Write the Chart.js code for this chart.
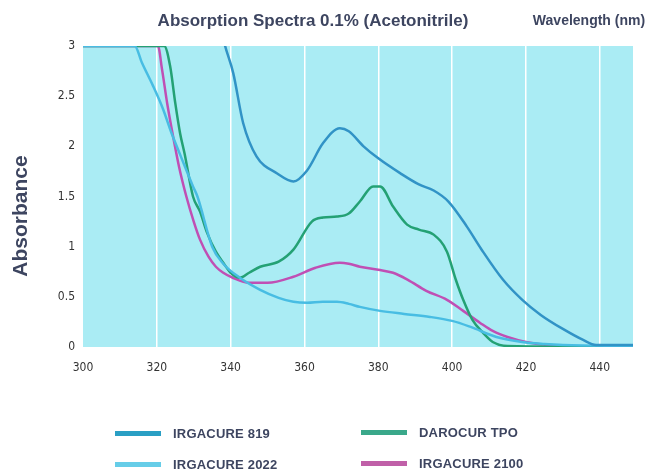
<!DOCTYPE html>
<html>
<head>
<meta charset="utf-8">
<script src="https://cdn.jsdelivr.net/npm/chart.js@4.4.1/dist/chart.umd.min.js"></script>
<style>
  html, body { margin: 0; padding: 0; background: #fff; }
  #wrap { position: relative; width: 651px; height: 473px; }
  #legend { position: absolute; left: 0; top: 0; width: 651px; height: 473px; pointer-events: none; }
  .item { position: absolute; height: 20px; }
  .swatch { position: absolute; left: 0; top: 7px; width: 46px; height: 5px; }
  .label { position: absolute; left: 58px; top: 0; white-space: nowrap;
           font: bold 13px "Liberation Sans", sans-serif; letter-spacing: 0.2px; color: #3d4560; line-height: 20px; }
</style>
</head>
<body>
<div id="wrap">
  <canvas id="spectraChart" width="651" height="473"></canvas>
  <div id="legend"></div>
</div>
<script>
// series labels
const seriesNames = ['IRGACURE 819', 'IRGACURE 2022', 'DAROCUR TPO', 'IRGACURE 2100'];

// wavelength (nm) / absorbance
const irg819X = [336.5, 338.5, 340.7, 343.4, 347, 352.6, 357, 360.7, 365, 369.6, 372, 376, 380, 386, 391, 395, 399, 404, 408, 413.8, 419, 424, 430, 435.5, 439, 449];
const irg819Y = [3.3, 3.0, 2.73, 2.23, 1.9, 1.73, 1.65, 1.76, 2.03, 2.18, 2.15, 2.0, 1.88, 1.73, 1.62, 1.56, 1.45, 1.2, 0.97, 0.67, 0.47, 0.32, 0.18, 0.07, 0.02, 0.02];

const irg2022X = [300, 314, 316, 319, 321.7, 324, 326.5, 329.8, 331, 335, 338, 342.5, 348, 353, 357, 360.7, 365, 368.8, 372, 375, 380.5, 387, 394, 400, 405, 412, 419, 425, 430, 449];
const irg2022Y = [3.0, 3.0, 2.83, 2.6, 2.37, 2.13, 1.9, 1.6, 1.5, 1.0, 0.83, 0.69, 0.57, 0.49, 0.45, 0.44, 0.45, 0.45, 0.43, 0.40, 0.36, 0.33, 0.30, 0.26, 0.20, 0.10, 0.05, 0.03, 0.02, 0.01];

const tpoX = [300, 322, 323.6, 325, 326.3, 327.5, 329.8, 331.7, 333.6, 336, 338, 340, 342.5, 345, 348, 353, 357, 362, 365, 368.8, 372, 375, 378.6, 380.5, 384, 387.8, 391, 395, 398.6, 401, 403, 405.5, 408.4, 411, 415, 449];
const tpoY = [3.0, 3.0, 2.8, 2.43, 2.13, 1.93, 1.5, 1.35, 1.14, 0.95, 0.84, 0.74, 0.69, 0.74, 0.80, 0.85, 0.97, 1.25, 1.29, 1.30, 1.33, 1.45, 1.6, 1.6, 1.4, 1.22, 1.17, 1.12, 0.95, 0.67, 0.47, 0.27, 0.14, 0.05, 0.01, 0.0];

const irg2100X = [300, 320.3, 321.4, 322.8, 324.4, 326, 328, 330, 331.7, 334, 336, 338, 340.6, 345, 350, 357, 363, 369.6, 372, 375, 380, 384, 388, 393, 398.6, 403, 407.6, 411, 415, 420, 425.7, 439, 449];
const irg2100Y = [3.0, 3.0, 2.77, 2.43, 2.1, 1.8, 1.5, 1.25, 1.07, 0.9, 0.80, 0.74, 0.69, 0.64, 0.64, 0.70, 0.79, 0.84, 0.83, 0.80, 0.77, 0.74, 0.67, 0.56, 0.47, 0.36, 0.24, 0.16, 0.10, 0.05, 0.02, 0.0, 0.0];

const lineColors = ['#3193c6', '#48bde3', '#24a174', '#c04fb4'];
const legendColors = ['#2a9fc4', '#66cde8', '#3aa88a', '#c060a8'];

function toPoints(xs, ys) {
    return xs.map((x, i) => ({ x: x, y: ys[i] }));
}

const fontFamily = '"Liberation Sans Narrow", "DejaVu Sans Condensed", sans-serif';

const plotBackground = {
    id: 'plotBackground',
    beforeDraw(chart) {
        const { ctx, chartArea } = chart;
        ctx.save();
        ctx.fillStyle = '#aaecf4';
        ctx.fillRect(chartArea.left, chartArea.top, chartArea.right - chartArea.left, chartArea.bottom - chartArea.top);
        ctx.restore();
    }
};

const chartTexts = {
    id: 'chartTexts',
    afterDraw(chart) {
        const ctx = chart.ctx;
        ctx.save();
        ctx.fillStyle = '#3d4560';
        ctx.textBaseline = 'middle';
        ctx.textAlign = 'center';
        ctx.font = 'bold 17px "Liberation Sans", sans-serif';
        ctx.fillText('Absorption Spectra 0.1% (Acetonitrile)', 313, 21);
        ctx.font = 'bold 14px "Liberation Sans", sans-serif';
        ctx.fillText('Wavelength (nm)', 589, 21);
        ctx.translate(21, 216);
        ctx.rotate(-Math.PI / 2);
        ctx.font = 'bold 21px "Liberation Sans", sans-serif';
        ctx.fillText('Absorbance', 0, 0);
        ctx.restore();
    }
};

const allX = [irg819X, irg2022X, tpoX, irg2100X];
const allY = [irg819Y, irg2022Y, tpoY, irg2100Y];

const ctx = document.getElementById('spectraChart').getContext('2d');
const spectraChart = new Chart(ctx, {
    type: 'line',
    data: {
        datasets: seriesNames.map((name, i) => ({
            label: name,
            data: toPoints(allX[i], allY[i]),
            borderColor: lineColors[i],
            backgroundColor: lineColors[i],
            borderWidth: 2.5,
            pointRadius: 0,
            fill: false,
            cubicInterpolationMode: 'monotone'
        }))
    },
    options: {
        responsive: false,
        animation: false,
        layout: { padding: { top: 46, right: 18, left: 0, bottom: 0 } },
        plugins: {
            legend: { display: false },
            tooltip: { enabled: false }
        },
        scales: {
            x: {
                type: 'linear',
                min: 300,
                max: 449,
                afterFit: s => { s.height = 126; },
                afterBuildTicks: s => { s.ticks = s.ticks.filter(t => t.value % 20 === 0); },
                ticks: {
                    stepSize: 20,
                    padding: 14,
                    color: '#333',
                    font: { family: fontFamily, size: 12 }
                },
                grid: {
                    drawTicks: false,
                    lineWidth: 1.5,
                    color: c => (c.tick && c.tick.value === 300) ? 'rgba(0,0,0,0)' : '#ffffff'
                },
                border: { display: false }
            },
            y: {
                min: 0,
                max: 3,
                afterFit: s => { s.width = 83; },
                ticks: {
                    stepSize: 0.5,
                    padding: 8,
                    color: '#333',
                    font: { family: fontFamily, size: 12 },
                    callback: v => String(v)
                },
                grid: { display: false, drawTicks: false },
                border: { display: false }
            }
        }
    },
    plugins: [plotBackground, chartTexts]
});

// legend in two columns below the plot
const legendSpots = [[115, 424], [115, 455], [361, 423], [361, 454]];
const legendBox = document.getElementById('legend');
seriesNames.forEach((name, i) => {
    const item = document.createElement('div');
    item.className = 'item';
    item.style.left = legendSpots[i][0] + 'px';
    item.style.top = legendSpots[i][1] + 'px';
    item.innerHTML = '<div class="swatch" style="background:' + legendColors[i] + '"></div><div class="label">' + name + '</div>';
    legendBox.appendChild(item);
});
</script>
</body>
</html>
